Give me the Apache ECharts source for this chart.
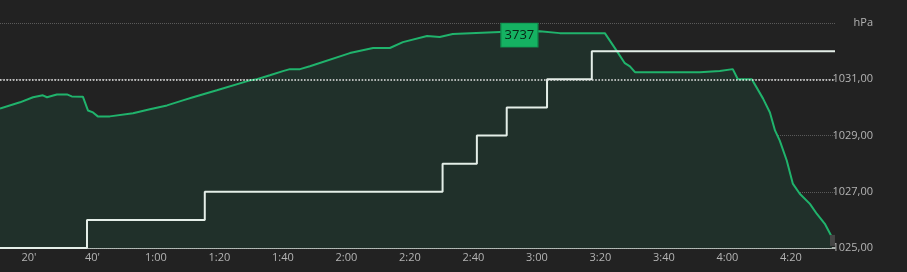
<!DOCTYPE html>
<html>
<head>
<meta charset="utf-8">
<script src="https://cdn.jsdelivr.net/npm/echarts@6/dist/echarts.min.js"></script>
<style>
html,body{margin:0;padding:0;background:#222222;}
#c{width:907px;height:272px;}
</style>
</head>
<body>
<div id="c"></div>
<script>
// Pressure trace (minutes since start, hPa)
const pressureMinutes = [10.9,17.2,21.3,24.4,25.7,28.8,32.0,33.5,37.0,38.6,40.2,41.7,45.5,52.8,58.1,63.5,68.5,71.7,79.2,89.6,91.8,95.9,100.0,102.2,105.4,108.5,121.1,128.4,133.7,137.8,145.4,149.4,153.5,168.3,180.9,187.2,201.4,205.2,207.7,209.3,210.9,220.9,231.3,237.6,241.7,243.3,247.7,251.2,253.4,255.0,256.5,258.7,260.6,262.8,266.0,268.2,270.7,272.9];
const pressureValues = [1029.96,1030.18,1030.36,1030.43,1030.36,1030.46,1030.46,1030.39,1030.38,1029.89,1029.82,1029.68,1029.68,1029.79,1029.93,1030.07,1030.25,1030.36,1030.61,1030.96,1031.00,1031.14,1031.29,1031.36,1031.36,1031.46,1031.93,1032.11,1032.11,1032.32,1032.54,1032.50,1032.61,1032.68,1032.71,1032.64,1032.64,1032.00,1031.57,1031.46,1031.25,1031.25,1031.25,1031.29,1031.36,1031.00,1031.00,1030.32,1029.82,1029.18,1028.82,1028.11,1027.29,1026.93,1026.57,1026.21,1025.86,1025.39];
// Step series (change times, new level)
const stepMinutes = [10.9,38.3,75.4,150.3,161.1,170.5,183.2,197.3,273.9];
const stepValues = [1025,1026,1027,1028,1029,1030,1031,1032,1032];
// Axis ticks
const xTickMinutes = [20,40,60,80,100,120,140,160,180,200,220,240,260];
const yMin = 1025, yMax = 1033, yStep = 2;
const refLevel = 1031;
const peakLabel = '3737';
const peakPoint = [174.5, 1032.57];
const endMarker = [273.1, 1025.27];

const pressureData = pressureMinutes.map((m,i)=>[m,pressureValues[i]]);
const stepData = stepMinutes.map((m,i)=>[m,stepValues[i]]);

const chart = echarts.init(document.getElementById('c'));
chart.setOption({
  backgroundColor:'#222222',
  animation:false,
  textStyle:{fontFamily:'Open Sans'},
  grid:{left:0,right:72,top:23,bottom:24},
  xAxis:{
    type:'value', min:10.9, max:273.9,
    axisLine:{show:true,lineStyle:{color:'#d4ddd8',width:1.5}},
    axisTick:{show:false},
    splitLine:{show:false},
    axisLabel:{
      customValues:xTickMinutes, margin:4, color:'#b4b4b4', fontSize:11, fontFamily:'Open Sans',
      formatter:function(v){
        if(v<60) return v+"'";
        const h=Math.floor(v/60), mm=v%60;
        return h+':'+(mm<10?'0'+mm:mm);
      }
    }
  },
  yAxis:{
    type:'value', position:'right', min:yMin, max:yMax, interval:yStep,
    axisLine:{show:false}, axisTick:{show:false},
    splitLine:{show:true,lineStyle:{color:'#5a5a5a',type:'dotted',width:1}},
    axisLabel:{
      align:'right', margin:38, color:'#b4b4b4', fontSize:11, fontFamily:'Open Sans',
      formatter:function(v){
        if(v===yMax) return 'hPa';
        return v.toFixed(2).replace('.',',');
      }
    }
  },
  series:[
    {
      type:'line', data:pressureData, symbol:'none', smooth:false,
      lineStyle:{color:'#20b36c',width:2},
      areaStyle:{color:'#20302a',opacity:1,origin:'start'},
      z:2,
      markLine:{
        silent:true, symbol:['none','none'], label:{show:false},
        lineStyle:{color:'#e6e6e6',type:'dotted',width:1.6},
        data:[{yAxis:refLevel}]
      },
      markPoint:{
        silent:true,
        data:[
          {coord:peakPoint, symbol:'rect', symbolSize:[37,24],
           itemStyle:{color:'#15b262',borderColor:'#0f8c4c',borderWidth:1},
           label:{show:true,position:'inside',formatter:peakLabel,color:'#082414',fontSize:13,fontFamily:'Open Sans'}},
          {coord:endMarker, symbol:'rect', symbolSize:[5,11],
           itemStyle:{color:'#454545'}, label:{show:false}}
        ]
      }
    },
    {
      type:'line', data:stepData, step:'end', symbol:'none',
      lineStyle:{color:'#e4eee8',width:2},
      z:3
    }
  ]
});
</script>
</body>
</html>
